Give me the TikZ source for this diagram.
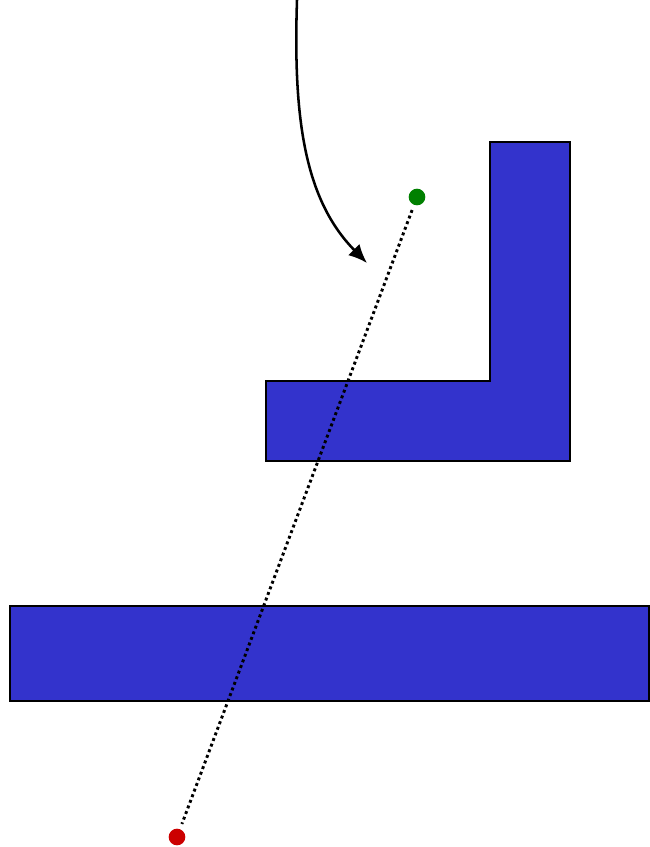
\documentclass[tikz,border=0pt]{standalone}
\usetikzlibrary{arrows.meta}
\definecolor{wallblue}{HTML}{3333CC}
\definecolor{startgreen}{HTML}{008000}
\definecolor{endred}{HTML}{CC0000}
\begin{document}
\begin{tikzpicture}[x=0.75pt,y=-0.75pt,
  wall/.style={fill=wallblue,draw=black,line width=1.9pt},
  pointdot/.style={circle,inner sep=0pt,minimum size=12.5pt}]
\useasboundingbox (0,0) rectangle (650,847);
\draw[wall] (490,142) -- (570,142) -- (570,461) -- (266,461) -- (266,381) -- (490,381) -- cycle;
\draw[wall] (10,606) rectangle (649,701);
\node[pointdot,fill=startgreen] (g) at (417,197) {};
\node[pointdot,fill=endred] (r) at (177,837) {};
\draw[line width=2.2pt,dash pattern=on 2.2pt off 2.3pt,shorten <=4pt,shorten >=4pt] (g) -- (r);
\coordinate (s) at (297,0);
\coordinate (e) at (367,263);
\draw[line width=1.9pt,-{Latex[length=14pt,width=12pt]}] (s) .. controls (293,120) and (305,200) .. (e);
\end{tikzpicture}
\end{document}
